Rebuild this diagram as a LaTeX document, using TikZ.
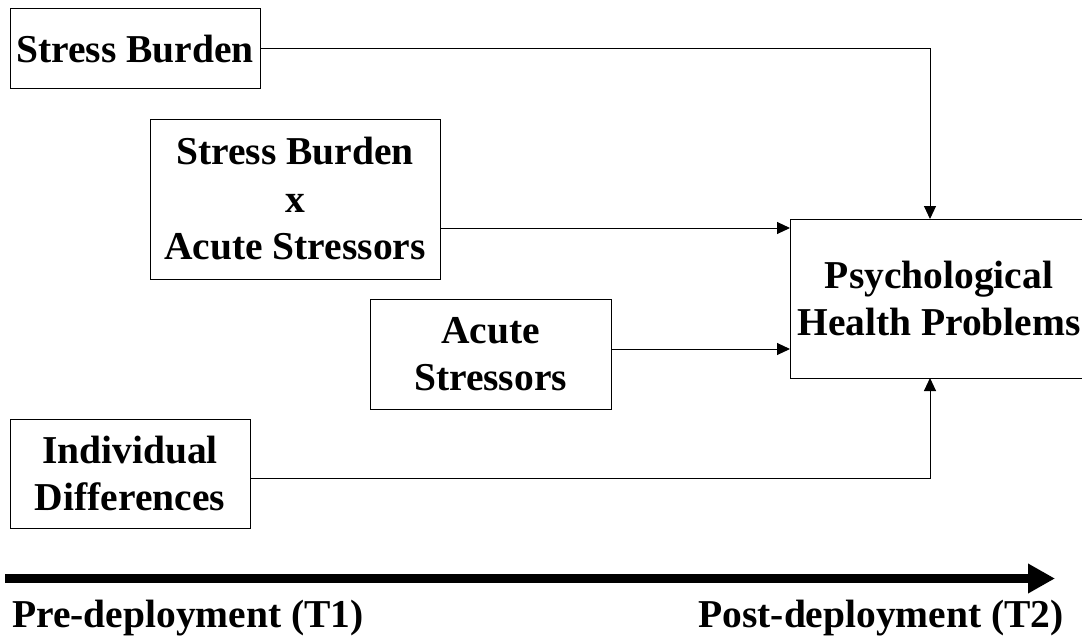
\documentclass[tikz,border=0pt]{standalone}
\usepackage{fontspec}
\setmainfont{Liberation Serif}
\usetikzlibrary{arrows.meta}
\begin{document}
\begin{tikzpicture}[x=1pt,y=-1pt,
  box/.style={draw, line width=1pt, inner sep=0pt, align=center,
    font=\fontsize{39.5}{47.5}\selectfont\bfseries},
  conn/.style={line width=1pt, -{Triangle[length=13pt,width=12pt]}},
  lbl/.style={inner sep=0pt, font=\fontsize{39.5}{47}\selectfont\bfseries}]
\useasboundingbox (0,0) rectangle (1082,642);
\clip (0,0) rectangle (1082,642);
\node[box, minimum width=250pt, minimum height=80pt] (sb) at (135,49) {Stress Burden};
\node[box, minimum width=290pt, minimum height=160pt] (sxa) at (295,199) {Stress Burden\\x\\Acute Stressors};
\node[box, minimum width=241pt, minimum height=110pt] (ac) at (490.5,354) {Acute\\Stressors};
\node[box, minimum width=240pt, minimum height=109pt] (ind) at (130,473.5) {Individual\\Differences};
\node[box, minimum width=298pt, minimum height=159pt] (psy) at (939,298.5) {Psychological\\Health Problems};
\coordinate (pt) at (930,219);
\coordinate (pb) at (930,378);
\coordinate (p1) at (790,228);
\coordinate (p2) at (790,349);
\coordinate (y4) at (0,478);
\draw[conn] (sb.east) -| (pt);
\draw[conn] (sxa.east |- p1) -- (p1);
\draw[conn] (ac.east |- p2) -- (p2);
\draw[conn] (ind.east |- y4) -| (pb);
\coordinate (ts) at (5,578.5);
\coordinate (te) at (1055,578.5);
\draw[line width=9pt, -{Triangle[length=27pt,width=28pt]}] (ts) -- (te);
\node[lbl, anchor=base west] (pre) at (12,627) {Pre-deployment (T1)};
\node[lbl, anchor=base east] (post) at (1064,627) {Post-deployment (T2)};
\end{tikzpicture}
\end{document}
